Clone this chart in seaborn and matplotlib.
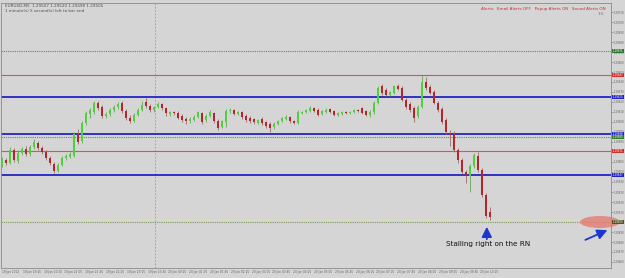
import matplotlib
matplotlib.use("Agg")
import matplotlib.pyplot as plt
import matplotlib.transforms as mtransforms
from matplotlib.patches import Ellipse
import seaborn as sns
import numpy as np

# ---------------- data (EURUSD M5 candles) ----------------
opens = [1.29557, 1.29562, 1.29559, 1.29572, 1.29561, 1.29569, 1.29573, 1.29568, 1.29575, 1.29579,
         1.29574, 1.29570, 1.29564, 1.29558, 1.29551, 1.29557, 1.29564, 1.29565, 1.29566, 1.29588,
         1.29581, 1.29599, 1.29608, 1.29610, 1.29619, 1.29615, 1.29606, 1.29608, 1.29612, 1.29615,
         1.29619, 1.29611, 1.29604, 1.29601, 1.29607, 1.29612, 1.29620, 1.29616, 1.29612, 1.29615,
         1.29618, 1.29614, 1.29608, 1.29610, 1.29609, 1.29606, 1.29603, 1.29601, 1.29602, 1.29605,
         1.29609, 1.29602, 1.29606, 1.29609, 1.29601, 1.29595, 1.29600, 1.29611, 1.29612, 1.29608,
         1.29610, 1.29606, 1.29604, 1.29603, 1.29599, 1.29603, 1.29600, 1.29598, 1.29595, 1.29598,
         1.29601, 1.29603, 1.29605, 1.29601, 1.29599, 1.29609, 1.29610, 1.29611, 1.29614, 1.29612,
         1.29608, 1.29610, 1.29613, 1.29611, 1.29607, 1.29608, 1.29610, 1.29609, 1.29610, 1.29612,
         1.29614, 1.29611, 1.29607, 1.29610, 1.29619, 1.29636, 1.29632, 1.29627, 1.29629, 1.29636,
         1.29634, 1.29622, 1.29618, 1.29614, 1.29606, 1.29615, 1.29640, 1.29635, 1.29630, 1.29619,
         1.29613, 1.29602, 1.29589, 1.29588, 1.29572, 1.29562, 1.29550, 1.29546, 1.29556, 1.29566,
         1.29552, 1.29527, 1.29510]
closes = [1.29562, 1.29559, 1.29572, 1.29562, 1.29569, 1.29573, 1.29568, 1.29575, 1.29580, 1.29574,
          1.29570, 1.29564, 1.29559, 1.29551, 1.29557, 1.29564, 1.29566, 1.29568, 1.29588, 1.29580,
          1.29599, 1.29609, 1.29612, 1.29619, 1.29614, 1.29606, 1.29608, 1.29612, 1.29615, 1.29618,
          1.29611, 1.29604, 1.29601, 1.29607, 1.29612, 1.29617, 1.29616, 1.29612, 1.29615, 1.29618,
          1.29614, 1.29609, 1.29610, 1.29609, 1.29604, 1.29602, 1.29601, 1.29603, 1.29605, 1.29610,
          1.29600, 1.29606, 1.29610, 1.29601, 1.29594, 1.29601, 1.29611, 1.29612, 1.29608, 1.29610,
          1.29605, 1.29602, 1.29601, 1.29600, 1.29602, 1.29599, 1.29596, 1.29594, 1.29598, 1.29601,
          1.29604, 1.29605, 1.29601, 1.29599, 1.29610, 1.29610, 1.29612, 1.29614, 1.29611, 1.29607,
          1.29611, 1.29612, 1.29610, 1.29607, 1.29609, 1.29610, 1.29609, 1.29610, 1.29612, 1.29611,
          1.29609, 1.29607, 1.29610, 1.29619, 1.29634, 1.29629, 1.29627, 1.29630, 1.29636, 1.29633,
          1.29622, 1.29615, 1.29612, 1.29604, 1.29615, 1.29640, 1.29634, 1.29629, 1.29619, 1.29612,
          1.29600, 1.29590, 1.29587, 1.29572, 1.29562, 1.29550, 1.29546, 1.29556, 1.29567, 1.29552,
          1.29527, 1.29506, 1.29505]
highs = [1.29565, 1.29564, 1.29575, 1.29574, 1.29572, 1.29575, 1.29576, 1.29577, 1.29583, 1.29581,
         1.29576, 1.29572, 1.29566, 1.29560, 1.29559, 1.29566, 1.29568, 1.29570, 1.29590, 1.29593,
         1.29601, 1.29611, 1.29614, 1.29621, 1.29621, 1.29617, 1.29610, 1.29614, 1.29617, 1.29620,
         1.29621, 1.29613, 1.29607, 1.29609, 1.29614, 1.29621, 1.29624, 1.29618, 1.29616, 1.29620,
         1.29619, 1.29615, 1.29611, 1.29611, 1.29611, 1.29608, 1.29605, 1.29605, 1.29607, 1.29611,
         1.29610, 1.29608, 1.29612, 1.29610, 1.29603, 1.29602, 1.29613, 1.29614, 1.29613, 1.29611,
         1.29611, 1.29608, 1.29606, 1.29604, 1.29603, 1.29605, 1.29601, 1.29600, 1.29600, 1.29602,
         1.29605, 1.29607, 1.29606, 1.29602, 1.29612, 1.29611, 1.29613, 1.29616, 1.29615, 1.29614,
         1.29612, 1.29614, 1.29614, 1.29612, 1.29610, 1.29611, 1.29611, 1.29611, 1.29613, 1.29613,
         1.29615, 1.29612, 1.29612, 1.29621, 1.29636, 1.29638, 1.29634, 1.29631, 1.29637, 1.29638,
         1.29636, 1.29624, 1.29620, 1.29616, 1.29617, 1.29647, 1.29645, 1.29637, 1.29632, 1.29621,
         1.29615, 1.29604, 1.29592, 1.29591, 1.29574, 1.29564, 1.29552, 1.29558, 1.29569, 1.29570,
         1.29554, 1.29529, 1.29515]
lows = [1.29555, 1.29557, 1.29558, 1.29560, 1.29559, 1.29567, 1.29566, 1.29566, 1.29573, 1.29572,
        1.29568, 1.29562, 1.29557, 1.29549, 1.29550, 1.29556, 1.29562, 1.29564, 1.29565, 1.29578,
        1.29579, 1.29597, 1.29604, 1.29608, 1.29612, 1.29604, 1.29604, 1.29606, 1.29610, 1.29613,
        1.29609, 1.29602, 1.29599, 1.29600, 1.29606, 1.29611, 1.29614, 1.29610, 1.29610, 1.29614,
        1.29612, 1.29606, 1.29606, 1.29607, 1.29603, 1.29600, 1.29598, 1.29599, 1.29601, 1.29604,
        1.29598, 1.29600, 1.29605, 1.29599, 1.29592, 1.29594, 1.29595, 1.29609, 1.29607, 1.29607,
        1.29603, 1.29600, 1.29599, 1.29598, 1.29598, 1.29597, 1.29594, 1.29590, 1.29593, 1.29597,
        1.29600, 1.29602, 1.29599, 1.29598, 1.29598, 1.29608, 1.29609, 1.29610, 1.29610, 1.29606,
        1.29607, 1.29609, 1.29609, 1.29606, 1.29606, 1.29607, 1.29608, 1.29608, 1.29609, 1.29610,
        1.29608, 1.29606, 1.29605, 1.29608, 1.29618, 1.29627, 1.29626, 1.29626, 1.29628, 1.29632,
        1.29621, 1.29613, 1.29610, 1.29600, 1.29604, 1.29614, 1.29632, 1.29628, 1.29618, 1.29610,
        1.29598, 1.29588, 1.29576, 1.29570, 1.29559, 1.29548, 1.29539, 1.29530, 1.29554, 1.29550,
        1.29525, 1.29504, 1.29502]

# horizontal levels drawn on the chart
red_levels = [1.29647, 1.29571]
blue_levels = [1.29625, 1.29588, 1.29547]
green_dotted_levels = [1.29671, 1.29585]
round_number = 1.29500
bid_level = 1.29503

y_ticks = [1.29460, 1.29470, 1.29480, 1.29490, 1.29500, 1.29510, 1.29520, 1.29530, 1.29540,
           1.29550, 1.29560, 1.29570, 1.29580, 1.29590, 1.29600, 1.29610, 1.29620, 1.29630,
           1.29640, 1.29650, 1.29660, 1.29670, 1.29680, 1.29690, 1.29700, 1.29710]

x_labels = ["19 Jan 2012", "19 Jan 19:45", "19 Jan 20:25", "19 Jan 21:05", "19 Jan 21:45",
            "19 Jan 22:25", "19 Jan 23:05", "19 Jan 23:45", "20 Jan 00:25", "20 Jan 01:05",
            "20 Jan 01:45", "20 Jan 02:25", "20 Jan 03:05", "20 Jan 03:45", "20 Jan 04:25",
            "20 Jan 05:05", "20 Jan 05:45", "20 Jan 06:25", "20 Jan 07:05", "20 Jan 07:45",
            "20 Jan 08:25", "20 Jan 09:05", "20 Jan 09:45", "20 Jan 10:25"]
day_separator_bar = 38.25

# ---------------- style ----------------
BG = "#d5d5d5"
sns.set_theme(style="white", rc={"axes.facecolor": BG, "figure.facecolor": BG})
plt.rcParams["font.family"] = ["DejaVu Sans"]

fig = plt.figure(figsize=(6.25, 2.78), dpi=100)
ax = fig.add_axes([1 / 625, 10 / 278, 610 / 625, 265 / 278])

o = np.array(opens); c = np.array(closes); h = np.array(highs); l = np.array(lows)
idx = np.arange(len(o))
bull = c >= o
body_bottom = np.minimum(o, c)
body_height = np.maximum(np.abs(c - o), 0.000012)
body_colors = np.where(bull, "#4fd13b", "#b3262b")
wick_colors = np.where(bull, "#6aa65a", "#9a6a6a")

ax.vlines(idx, l, h, colors=wick_colors, linewidth=0.6, zorder=3)
ax.bar(idx, body_height, bottom=body_bottom, width=0.62, color=body_colors, linewidth=0, zorder=4)

# levels
for lv in red_levels:
    ax.axhline(lv, color="#d65454", lw=0.8, zorder=2)
for lv in blue_levels:
    ax.axhline(lv, color="#2323c4", lw=1.3, zorder=2)
for lv in green_dotted_levels:
    ax.axhline(lv, color="#5d8a55", lw=0.8, ls=(0, (1, 1)), zorder=2)
ax.axhline(bid_level, color="#e4df92", lw=0.9, zorder=2)
ax.axhline(round_number, color="#7f9a5f", lw=0.8, ls=(0, (1, 1)), zorder=2)

ax.axvline(day_separator_bar, color="#9a9a9a", lw=0.6, ls=(0, (2, 2)), zorder=1)

ax.set_xlim(-0.25, 152.25)
ax.set_ylim(1.29454, 1.29719)

# axes
ax.yaxis.tick_right()
ax.set_yticks(y_ticks)
ax.set_yticklabels([f"{v:.5f}" for v in y_ticks], fontsize=1.9, color="#606060")
tick_pos = [5.2 * k for k in range(len(x_labels))]
ax.set_xticks(tick_pos)
ax.set_xticklabels(x_labels, fontsize=2.1, color="#606060", ha="left")
ax.tick_params(axis="both", length=1.2, width=0.4, pad=0.6, colors="#707070")
ax.tick_params(axis="y", labelcolor="#606060")
ax.tick_params(axis="x", labelcolor="#606060")
for s in ax.spines.values():
    s.set_color("#8a8a8a")
    s.set_linewidth(0.6)

# level labels on the price scale
trans = mtransforms.blended_transform_factory(ax.transAxes, ax.transData)
box_specs = [(1.29671, "#2f7a2f"), (1.29647, "#d23030"), (1.29625, "#2323c4"),
             (1.29588, "#2323c4"), (1.29585, "#2f7a2f"), (1.29571, "#d23030"),
             (1.29547, "#2323c4"), (1.29500, "#5a5020")]
for lv, col in box_specs:
    ax.text(1.003, lv, f"{lv:.5f}", transform=trans, fontsize=1.9, color="white",
            va="center", ha="left", clip_on=False, zorder=6,
            bbox=dict(boxstyle="square,pad=0.15", fc=col, ec="none"))

# header texts
fig.text(5 / 625, 1 - 6 / 278, "EURUSD,M5  1.29507 1.29520 1.29498 1.29505",
         fontsize=3.0, color="#505050", va="center")
fig.text(5 / 625, 1 - 11 / 278, "1 minute(s) 5 second(s) left to bar end",
         fontsize=3.0, color="#505050", va="center")
fig.text(606 / 625, 1 - 9 / 278,
         "Alerts:  Email Alerts OFF   Popup Alerts ON   Sound Alerts ON",
         fontsize=3.0, color="#c83030", va="center", ha="right")
fig.text(604 / 625, 1 - 14 / 278, "1:5", fontsize=3.0, color="#707070", va="center", ha="right")

# annotation
ax.annotate("", xy=(121.2, 1.29498), xytext=(121.2, 1.29480),
            arrowprops=dict(arrowstyle="-|>,head_width=0.25,head_length=0.5",
                            color="#1f35d0", lw=1.3), zorder=7)
ax.text(121.5, 1.29478, "Stalling right on the RN", fontsize=5.2, color="#111111",
        ha="center", va="center", zorder=7)

ell = Ellipse((149.5, 1.29500), width=10, height=0.00012, facecolor="#e57b74",
              edgecolor="none", alpha=0.8, zorder=5, clip_on=False)
ax.add_patch(ell)
ax.annotate("", xy=(152.0, 1.29493), xytext=(145.2, 1.29481),
            arrowprops=dict(arrowstyle="-|>,head_width=0.25,head_length=0.5",
                            color="#1f35d0", lw=1.3), annotation_clip=False, zorder=7)

fig.savefig("out.png", dpi=100, facecolor=BG)
